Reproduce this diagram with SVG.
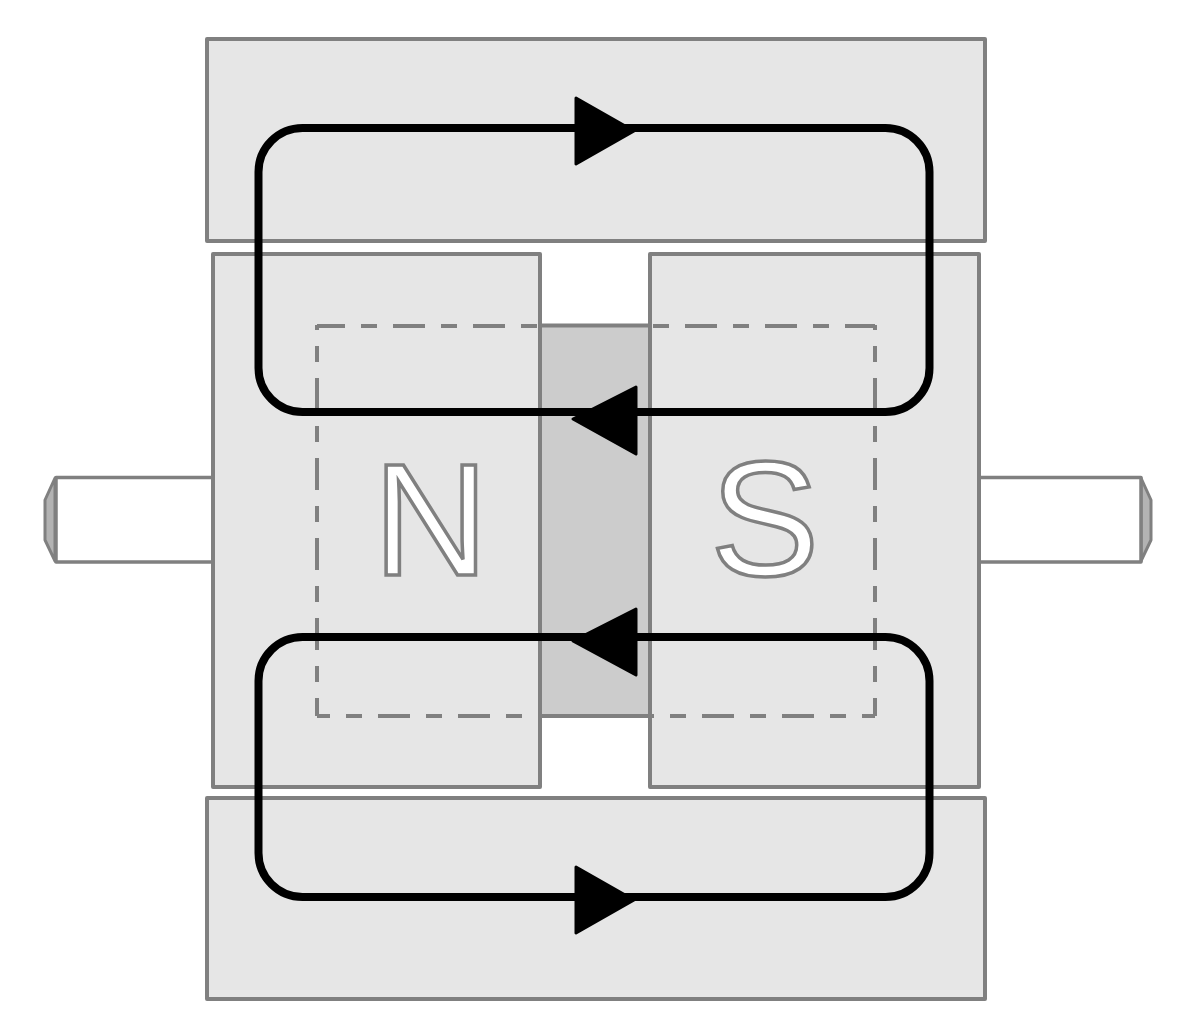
<svg xmlns="http://www.w3.org/2000/svg" width="1200" height="1035" viewBox="0 0 1200 1035">
<style>
.p{fill:#e6e6e6;stroke:#808080;stroke-width:4;stroke-linejoin:round}
.s{fill:#fff;stroke:#808080;stroke-width:3.5;stroke-linejoin:round}
.c{fill:#b3b3b3;stroke:#808080;stroke-width:3;stroke-linejoin:round}
.l{font-family:"Liberation Sans",Arial,sans-serif;font-size:160px;fill:#fff;stroke:#808080;stroke-width:3.500}
.d{fill:none;stroke:#808080;stroke-width:4;stroke-dasharray:32 16 16 16}
.f{fill:none;stroke:#000;stroke-width:8}
.a{fill:#000;stroke:#000;stroke-width:3;stroke-linejoin:round}
</style>
<rect width="1200" height="1035" fill="#fff"/>
<g id="shaft-left"><path class="c" d="M55 478L45 500V540L55 561Z"/><rect class="s" x="56" y="477.500" width="157" height="84.500"/></g>
<g id="shaft-right"><path class="c" d="M1141 478L1151 500V540L1141 561Z"/><rect class="s" x="979" y="477.500" width="162" height="84.500"/></g>
<g id="yoke-top"><rect class="p" x="207" y="39" width="778" height="202"/></g>
<g id="yoke-bottom"><rect class="p" x="207" y="798" width="778" height="201"/></g>
<g id="armature"><rect x="540" y="325" width="110" height="391" fill="#cccccc"/><path d="M540 325.500H650M540 716H650" stroke="#808080" stroke-width="4" fill="none"/></g>
<g id="magnet-n"><rect class="p" x="213" y="254" width="327" height="533"/><text class="l" x="373" y="575">N</text></g>
<g id="magnet-s"><rect class="p" x="650" y="254" width="329" height="533"/><text class="l" x="710" y="575" style="font-size:164px">S</text></g>
<g id="outline">
<path class="d" style="stroke-dashoffset:4" d="M317 326H540"/>
<path class="d" style="stroke-dashoffset:45" d="M650 326H875"/>
<path class="d" style="stroke-dashoffset:27" d="M317 325V716"/>
<path class="d" style="stroke-dashoffset:27" d="M875 325V716"/>
<path class="d" style="stroke-dashoffset:19" d="M317 716H540"/>
<path class="d" style="stroke-dashoffset:28" d="M650 716H875"/>
</g>
<g id="connectors">
<rect class="f" x="258.500" y="128" width="671" height="284" rx="44" ry="44"/>
<rect class="f" x="258.500" y="637" width="671" height="260" rx="44" ry="44"/>
<path class="a" d="M576 98L634 131L576 164Z"/>
<path class="a" d="M636 387L573 419L636 454Z"/>
<path class="a" d="M636 609L573 641L636 675Z"/>
<path class="a" d="M576 867L634 900L576 933Z"/>
</g>
</svg>
